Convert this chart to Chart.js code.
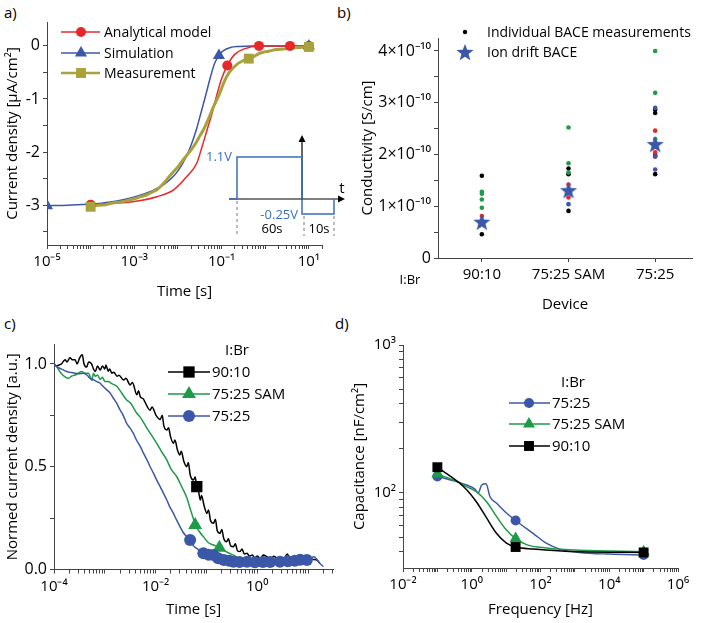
<!DOCTYPE html>
<html><head><meta charset="utf-8">
<script src="https://cdn.jsdelivr.net/npm/chart.js@4.4.1/dist/chart.umd.min.js"></script>
<style>
html,body{margin:0;padding:0;background:#fff;}
body{width:702px;height:623px;position:relative;overflow:hidden;font-family:'Open Sans',sans-serif;color:#000;}
.p{position:absolute;}
.lbl{position:absolute;font-size:15px;line-height:18px;}
</style></head><body>
<div class="lbl" style="left:4px;top:3px">a)</div>
<div class="lbl" style="left:337px;top:3px">b)</div>
<div class="lbl" style="left:4px;top:314px">c)</div>
<div class="lbl" style="left:335px;top:314px">d)</div>
<div class="p" style="left:0;top:0;width:352px;height:305px"><canvas id="ca"></canvas></div>
<div class="p" style="left:355px;top:0;width:347px;height:318px"><canvas id="cb"></canvas></div>
<div class="p" style="left:0;top:310px;width:352px;height:313px"><canvas id="cc"></canvas></div>
<div class="p" style="left:347px;top:310px;width:355px;height:313px"><canvas id="cd"></canvas></div>
<script>
// ---------------- DATA ----------------
// Panel a: current density [uA/cm2] vs time [s]
const aAnalytical = [[1e-4,-2.99],[1e-3,-2.93],[3.3e-3,-2.84],[8e-3,-2.71],[0.016,-2.46],[0.027,-2.21],[0.036,-1.89],[0.047,-1.57],[0.061,-1.26],[0.077,-0.94],[0.1,-0.62],[0.135,-0.37],[0.2,-0.16],[0.32,-0.06],[0.72,0],[3.7,0],[10,0]];
const aAnalyticalMarkers = [[1e-4,-2.99],[0.135,-0.37],[0.72,0],[3.7,0],[10,0]];
const aSimulation = [[1e-5,-3.01],[3e-5,-3.0],[1e-4,-2.98],[2.8e-4,-2.94],[9.6e-4,-2.85],[2.7e-3,-2.72],[5e-3,-2.6],[7.4e-3,-2.48],[0.0105,-2.33],[0.0148,-2.12],[0.02,-1.87],[0.0266,-1.57],[0.034,-1.25],[0.043,-0.94],[0.055,-0.6],[0.069,-0.33],[0.087,-0.18],[0.11,-0.09],[0.16,-0.03],[0.25,-0.01],[0.5,0],[10,0]];
const aSimulationMarkers = [[1e-5,-3.01],[0.087,-0.18],[10,0]];
const aMeasurement = [[1e-4,-3.03],[1.5e-4,-3.0],[2.2e-4,-2.99],[3.2e-4,-2.96],[4.8e-4,-2.94],[7e-4,-2.91],[1e-3,-2.88],[1.4e-3,-2.84],[2e-3,-2.8],[2.6e-3,-2.75],[3.3e-3,-2.71],[4.2e-3,-2.63],[5.2e-3,-2.55],[6.2e-3,-2.47],[7.7e-3,-2.38],[9.5e-3,-2.3],[0.0115,-2.21],[0.014,-2.12],[0.017,-2.03],[0.02,-1.96],[0.023,-1.89],[0.027,-1.8],[0.032,-1.69],[0.039,-1.57],[0.045,-1.46],[0.051,-1.36],[0.057,-1.26],[0.065,-1.15],[0.075,-1.04],[0.087,-0.93],[0.1,-0.8],[0.12,-0.64],[0.15,-0.5],[0.18,-0.42],[0.25,-0.32],[0.33,-0.27],[0.42,-0.24],[0.55,-0.2],[0.7,-0.15],[0.9,-0.12],[1.2,-0.1],[1.8,-0.07],[2.7,-0.06],[4,-0.04],[6,-0.03],[10,-0.02]];
const aMeasurementMarkers = [[1e-4,-3.03],[0.42,-0.24],[10,-0.02]];
const aYTicks = [-3.5,-3,-2.5,-2,-1.5,-1,-0.5,0];

// Panel b: conductivity [S/cm] per device
const bDevices = ['90:10','75:25 SAM','75:25'];
const bBlack = [[1,1.59e-10],[1,0.46e-10],[2,1.73e-10],[2,1.62e-10],[2,0.91e-10],[3,2.87e-10],[3,2.8e-10],[3,1.99e-10],[3,1.62e-10]];
const bGreen = [[1,1.28e-10],[1,1.24e-10],[1,1.13e-10],[1,0.97e-10],[2,2.52e-10],[2,1.83e-10],[2,1.65e-10],[3,4.0e-10],[3,3.19e-10],[3,2.3e-10]];
const bRed = [[1,0.81e-10],[2,1.42e-10],[2,1.17e-10],[3,2.46e-10],[3,2.04e-10],[3,1.96e-10]];
const bBlue = [[1,0.72e-10],[2,1.04e-10],[2,1.27e-10],[3,2.9e-10],[3,1.96e-10],[3,1.71e-10]];
const bIonDrift = [0.70e-10, 1.31e-10, 2.2e-10];
const bYTicks = [0,0.5e-10,1e-10,1.5e-10,2e-10,2.5e-10,3e-10,3.5e-10,4e-10];

// Panel c: normed current density vs time [s]
const c9010 = [[1e-4,1.00],[1.12e-4,0.99],[1.25e-4,0.995],[1.4e-4,1.0],[1.5e-4,1.01],[1.65e-4,1.02],[1.8e-4,1.01],[2.06e-4,1.03],[2.3e-4,1.02],[2.6e-4,1.02],[2.85e-4,1.0],[3.2e-4,1.03],[3.6e-4,1.045],[3.9e-4,1.0],[4.4e-4,0.985],[4.8e-4,1.01],[5.5e-4,1.0],[6e-4,0.975],[6.5e-4,0.963],[7.2e-4,0.99],[8.1e-4,0.97],[9e-4,0.99],[1e-3,0.975],[1.05e-3,0.995],[1.17e-3,0.965],[1.25e-3,0.975],[1.38e-3,0.955],[1.5e-3,0.96],[1.74e-3,0.94],[1.9e-3,0.945],[2.34e-3,0.922],[2.6e-3,0.93],[3.16e-3,0.898],[3.5e-3,0.91],[4.27e-3,0.85],[4.6e-3,0.87],[5.0e-3,0.84],[5.75e-3,0.83],[6.3e-3,0.81],[7.76e-3,0.775],[8.5e-3,0.79],[0.0102,0.75],[0.0123,0.73],[0.0135,0.75],[0.0145,0.70],[0.0166,0.679],[0.018,0.69],[0.0195,0.65],[0.0224,0.614],[0.024,0.63],[0.027,0.58],[0.030,0.557],[0.032,0.575],[0.036,0.525],[0.041,0.50],[0.044,0.52],[0.048,0.46],[0.0556,0.436],[0.06,0.45],[0.0646,0.403],[0.07,0.38],[0.076,0.338],[0.08,0.36],[0.09,0.31],[0.102,0.273],[0.11,0.29],[0.12,0.24],[0.138,0.225],[0.15,0.245],[0.163,0.19],[0.186,0.176],[0.2,0.195],[0.22,0.15],[0.25,0.135],[0.27,0.15],[0.3,0.115],[0.34,0.111],[0.37,0.125],[0.41,0.09],[0.46,0.087],[0.5,0.10],[0.56,0.075],[0.63,0.079],[0.7,0.065],[0.8,0.07],[0.9,0.055],[1.01,0.066],[1.15,0.05],[1.3,0.07],[1.55,0.062],[1.8,0.05],[2.1,0.065],[2.5,0.055],[2.82,0.059],[3.3,0.05],[3.9,0.075],[4.5,0.05],[5.2,0.062],[6.2,0.055],[7,0.07],[8,0.05],[9.5,0.059],[12,0.05],[15,0.046],[17,0.03]];
const c9010Markers = [[0.0646,0.403]];
const c7525SAM = [[1e-4,1.00],[1.13e-4,0.987],[1.3e-4,0.963],[1.5e-4,0.945],[1.9e-4,0.93],[2.2e-4,0.94],[2.6e-4,0.946],[3.0e-4,0.955],[3.5e-4,0.963],[4.0e-4,0.955],[4.8e-4,0.955],[5.2e-4,0.935],[5.6e-4,0.92],[5.95e-4,0.955],[6.5e-4,0.94],[7.2e-4,0.946],[8.1e-4,0.925],[9e-4,0.935],[1.0e-3,0.915],[1.17e-3,0.914],[1.35e-3,0.905],[1.74e-3,0.89],[2.0e-3,0.87],[2.69e-3,0.825],[3.2e-3,0.81],[4.27e-3,0.76],[5e-3,0.74],[6.76e-3,0.687],[8e-3,0.66],[0.0105,0.614],[0.013,0.575],[0.0166,0.533],[0.02,0.49],[0.0263,0.45],[0.033,0.40],[0.041,0.35],[0.048,0.295],[0.0556,0.245],[0.06,0.217],[0.075,0.18],[0.087,0.16],[0.11,0.13],[0.138,0.119],[0.18,0.106],[0.25,0.085],[0.34,0.07],[0.45,0.055],[0.63,0.046],[0.9,0.04],[1.3,0.035]];
const c7525SAMMarkers = [[0.06,0.217],[0.18,0.106]];
const c7525 = [[1e-4,1.00],[1.13e-4,0.987],[1.4e-4,0.975],[1.78e-4,0.963],[2.2e-4,0.958],[2.6e-4,0.955],[3.1e-4,0.952],[3.8e-4,0.955],[4.5e-4,0.945],[5.1e-4,0.93],[5.8e-4,0.925],[6.8e-4,0.915],[8.1e-4,0.906],[9.3e-4,0.89],[1.1e-3,0.873],[1.26e-3,0.86],[1.48e-3,0.833],[1.7e-3,0.81],[2.0e-3,0.776],[2.3e-3,0.75],[2.69e-3,0.711],[3.1e-3,0.69],[3.63e-3,0.663],[4.2e-3,0.63],[5.0e-3,0.598],[5.8e-3,0.565],[6.76e-3,0.533],[7.8e-3,0.50],[9.1e-3,0.468],[0.0105,0.435],[0.0123,0.403],[0.0143,0.37],[0.0166,0.338],[0.019,0.305],[0.0224,0.273],[0.026,0.24],[0.030,0.21],[0.035,0.18],[0.041,0.16],[0.0478,0.144],[0.0556,0.115],[0.0646,0.103],[0.075,0.09],[0.087,0.079],[0.11,0.072],[0.138,0.07],[0.17,0.055],[0.22,0.046],[0.28,0.042],[0.34,0.038],[0.45,0.036],[0.63,0.038],[0.9,0.035],[1.3,0.036],[1.8,0.037],[2.8,0.038],[4,0.04],[5.5,0.042],[7,0.048],[9.5,0.046],[13,0.062],[17,0.03],[20,0.014]];
const c7525Markers = [[0.0478,0.144],[0.087,0.079],[0.11,0.072],[0.138,0.07],[0.17,0.055],[0.22,0.046],[0.28,0.042],[0.34,0.038],[0.45,0.036],[0.63,0.038],[0.9,0.035],[1.3,0.036],[1.8,0.037],[2.8,0.038],[4,0.04],[5.5,0.042],[7,0.048],[9.5,0.046]];
const cYTicks = [0,0.25,0.5,0.75,1.0];

// Panel d: capacitance [nF/cm2] vs frequency [Hz]
const d7525 = [[0.1,129],[0.41,118],[0.71,113],[1.24,106],[1.55,100],[1.95,113],[2.6,115],[3.4,94],[5.3,85],[10.2,73],[18.9,65],[62,53],[151,45.5],[365,41.6],[1400,39.5],[1e4,38.5],[1e5,38]];
const d7525Markers = [[0.1,129],[18.9,65],[1e5,38]];
const d7525SAM = [[0.1,134],[0.41,118],[0.71,110],[1.36,102],[2.7,87],[5.3,69],[10.2,56],[18.9,49],[39.5,44.6],[151,42.3],[1400,40.8],[1e5,40]];
const d7525SAMMarkers = [[0.1,134],[18.9,49],[1e5,40]];
const d9010 = [[0.1,149],[0.41,118],[0.71,105],[1.36,87],[2.7,67.6],[5.3,53],[10.2,45.7],[18.9,43],[62,41.7],[1400,39.9],[1e5,39.5]];
const d9010Markers = [[0.1,149],[18.9,43],[1e5,39.5]];

// ---------------- HELPERS ----------------
const FONT = "'Open Sans', sans-serif";
Chart.defaults.font.family = FONT;
Chart.defaults.color = '#000';
Chart.defaults.animation = false;

const RED = '#E8272A', BLUE = '#3B57A8', OLIVE = '#A9A23C', GREEN = '#1E9A48', BLACK = '#000';
const SUP = {'-':'⁻','0':'⁰','1':'¹','2':'²','3':'³','4':'⁴','5':'⁵','6':'⁶','7':'⁷','8':'⁸','9':'⁹'};
const sup = s => String(s).split('').map(c => SUP[c] || c).join('');
const pts = arr => arr.map(p => ({x: p[0], y: p[1]}));

const gridOpts = {drawOnChartArea:false, drawTicks:true, tickLength:4, color:'#444', lineWidth:1};
const borderOpts = {display:true, color:'#444', width:1};

function logAxis(min, max, labelExps, title, fitSize, isX) {
  return {
    type:'logarithmic', min, max,
    afterBuildTicks: sc => {
      const t = [];
      for (let e = Math.floor(Math.log10(min)); e <= Math.ceil(Math.log10(max)); e++)
        for (let m = 1; m < 10; m++) {
          const v = m * Math.pow(10, e);
          if (v >= min * 0.9999 && v <= max * 1.0001) t.push({value: v});
        }
      sc.ticks = t;
    },
    afterFit: sc => { if (isX) sc.height = fitSize; else sc.width = fitSize; },
    ticks: {autoSkip:false, maxRotation:0, padding:isX?4:3, font:{size:15},
      callback: v => { const e = Math.round(Math.log10(v)); return (Math.abs(v/Math.pow(10,e)-1) < 1e-6 && labelExps.includes(e)) ? '10' + sup(e) : ''; }},
    grid: gridOpts, border: borderOpts,
    title: {display:true, text:title, font:{size:15}, padding:{top:4,bottom:4}}
  };
}
function linAxis(min, max, tickVals, fmt, title, fitSize, isX, tickSize) {
  return {
    type:'linear', min, max,
    afterBuildTicks: sc => { sc.ticks = tickVals.map(v => ({value:v})); },
    afterFit: sc => { if (isX) sc.height = fitSize; else sc.width = fitSize; },
    ticks: {autoSkip:false, maxRotation:0, padding:isX?4:3, font:{size:tickSize || 15}, callback: fmt},
    grid: gridOpts, border: borderOpts,
    title: {display:true, text:title, font:{size:15}, padding:{top:4,bottom:4}}
  };
}

function starPath(g, cx, cy, R, r) {
  g.beginPath();
  for (let i = 0; i < 10; i++) {
    const a = -Math.PI/2 + i * Math.PI/5;
    const rr = i % 2 === 0 ? R : r;
    const x = cx + rr * Math.cos(a), y = cy + rr * Math.sin(a);
    if (i === 0) g.moveTo(x, y); else g.lineTo(x, y);
  }
  g.closePath();
}
function starCanvas(R, color) {
  const s = Math.ceil(R * 2 + 2);
  const c = document.createElement('canvas'); c.width = s; c.height = s;
  const g = c.getContext('2d'); g.fillStyle = color;
  starPath(g, s/2, s/2 + R*0.1, R, R*0.42); g.fill();
  return c;
}
function drawMarker(g, style, x, y, r, color) {
  g.save(); g.fillStyle = color; g.strokeStyle = color;
  if (style === 'circle') { g.beginPath(); g.arc(x, y, r, 0, Math.PI*2); g.fill(); }
  else if (style === 'rect') { const h = r * Math.SQRT1_2; g.fillRect(x-h, y-h, 2*h, 2*h); }
  else if (style === 'triangle') { g.beginPath(); g.moveTo(x, y - r); g.lineTo(x + r*0.866, y + r*0.5); g.lineTo(x - r*0.866, y + r*0.5); g.closePath(); g.fill(); }
  else if (style === 'star') { starPath(g, x, y + r*0.1, r, r*0.42); g.fill(); }
  g.restore();
}
function legendPlugin(id, cfg) {
  return {id, afterDraw(chart) {
    const g = chart.ctx; g.save();
    g.font = cfg.size + 'px ' + FONT; g.textBaseline = 'middle'; g.fillStyle = '#000';
    if (cfg.header) { g.textAlign = 'center'; g.fillText(cfg.header.text, cfg.header.x, cfg.header.y); }
    g.textAlign = 'left';
    cfg.items.forEach(it => {
      if (it.line) { g.strokeStyle = it.color; g.lineWidth = it.lw || 1.5; g.beginPath(); g.moveTo(cfg.x1, it.y); g.lineTo(cfg.x2, it.y); g.stroke(); }
      drawMarker(g, it.marker, cfg.xm, it.y, it.r, it.color);
      g.fillStyle = '#000'; g.fillText(it.text, cfg.xt, it.y + 1);
    });
    if (cfg.extra) cfg.extra(g, chart);
    g.restore();
  }};
}
function lineDS(data, color, lw) {
  return {data: pts(data), borderColor: color, backgroundColor: color, borderWidth: lw, pointRadius: 0, cubicInterpolationMode: 'monotone', fill: false};
}
function markDS(data, color, style, r) {
  return {data: pts(data), showLine: false, pointStyle: style, pointRadius: r, pointHoverRadius: r, backgroundColor: color, borderColor: color, borderWidth: 0};
}

// ---------------- PANEL A ----------------
function drawInset(g) {
  g.save();
  const blue = '#3A6FC0';
  g.strokeStyle = '#000'; g.fillStyle = '#000'; g.lineWidth = 1.2;
  g.beginPath(); g.moveTo(229, 199); g.lineTo(341, 199); g.stroke();
  g.beginPath(); g.moveTo(345, 199); g.lineTo(338, 195.5); g.lineTo(338, 202.5); g.closePath(); g.fill();
  g.beginPath(); g.moveTo(302, 200); g.lineTo(302, 141); g.stroke();
  g.beginPath(); g.moveTo(302, 135); g.lineTo(298.5, 142); g.lineTo(305.5, 142); g.closePath(); g.fill();
  g.strokeStyle = blue; g.lineWidth = 1.5;
  g.beginPath(); g.moveTo(229, 199); g.lineTo(237, 199); g.lineTo(237, 157); g.lineTo(302, 157); g.lineTo(302, 214); g.lineTo(334, 214); g.lineTo(334, 199); g.stroke();
  g.strokeStyle = '#555'; g.lineWidth = 0.8; g.setLineDash([3, 3]);
  [[237, 201], [304, 216], [334, 216]].forEach(([x, y0]) => { g.beginPath(); g.moveTo(x, y0); g.lineTo(x, 236); g.stroke(); });
  g.setLineDash([]);
  g.font = '13px ' + FONT; g.textBaseline = 'middle';
  g.fillStyle = blue; g.textAlign = 'right';
  g.fillText('1.1V', 232, 157);
  g.fillText('-0.25V', 298, 215);
  g.fillStyle = '#000'; g.textAlign = 'center';
  g.fillText('60s', 272, 229);
  g.fillText('10s', 319, 229);
  g.font = '15px ' + FONT;
  g.fillText('t', 342, 189);
  g.restore();
}

new Chart(document.getElementById('ca'), {
  type: 'line',
  data: {datasets: [
    markDS(aMeasurementMarkers, OLIVE, 'rect', 7),
    markDS(aAnalyticalMarkers, RED, 'circle', 5),
    markDS(aSimulationMarkers, BLUE, 'triangle', 7),
    lineDS(aMeasurement, OLIVE, 3),
    lineDS(aAnalytical, RED, 1.5),
    lineDS(aSimulation, BLUE, 1.5)
  ]},
  options: {
    responsive: true, maintainAspectRatio: false,
    layout: {padding: {top: 22, right: 30, left: 0, bottom: 0}},
    plugins: {legend: {display: false}, tooltip: {enabled: false}},
    scales: {
      x: logAxis(1e-5, 20, [-5, -3, -1, 1], 'Time [s]', 60, true),
      y: linAxis(-3.75, 0.45, aYTicks, v => Number.isInteger(v) ? (v === 0 ? '0' : String(v)) : '', 'Current density [µA/cm²]', 47, false, 16)
    }
  },
  plugins: [legendPlugin('lega', {size: 14, x1: 61, x2: 100, xm: 81, xt: 104,
    items: [
      {text: 'Analytical model', color: RED, marker: 'circle', r: 5, y: 32, line: true},
      {text: 'Simulation', color: BLUE, marker: 'triangle', r: 7, y: 53, line: true},
      {text: 'Measurement', color: OLIVE, marker: 'rect', r: 7, y: 73, line: true, lw: 2.5}
    ],
    extra: g => drawInset(g)
  })]
});

// ---------------- PANEL B ----------------
const starImg = starCanvas(9, BLUE);
new Chart(document.getElementById('cb'), {
  type: 'scatter',
  data: {datasets: [
    {data: bIonDrift.map((v, i) => ({x: i + 1, y: v})), pointStyle: starImg, pointRadius: 9, backgroundColor: BLUE},
    markDS(bBlue, BLUE, 'circle', 2.3),
    markDS(bRed, RED, 'circle', 2.3),
    markDS(bGreen, GREEN, 'circle', 2.3),
    markDS(bBlack, BLACK, 'circle', 2.3)
  ]},
  options: {
    responsive: true, maintainAspectRatio: false,
    layout: {padding: {top: 38, right: 9, left: 0, bottom: 0}},
    plugins: {legend: {display: false}, tooltip: {enabled: false}},
    scales: {
      x: linAxis(0.494, 3.425, [1, 2, 3], v => bDevices[v - 1] || '', 'Device', 60, true),
      y: linAxis(0, 4.25e-10, bYTicks, v => { const n = Math.round(v * 1e10 * 2) / 2; return n === 0 ? '0' : (Number.isInteger(n) ? n + '×10' + sup(-10) : ''); }, 'Conductivity [S/cm]', 83, false, 16)
    }
  },
  plugins: [legendPlugin('legb', {size: 14, x1: 0, x2: 0, xm: 110, xt: 132,
    items: [
      {text: 'Individual BACE measurements', color: BLACK, marker: 'circle', r: 2.2, y: 32},
      {text: 'Ion drift BACE', color: BLUE, marker: 'star', r: 9, y: 52}
    ],
    extra: g => { g.font = '13px ' + FONT; g.textAlign = 'center'; g.fillStyle = '#000'; g.fillText('I:Br', 55, 280); }
  })]
});

// ---------------- PANEL C ----------------
new Chart(document.getElementById('cc'), {
  type: 'line',
  data: {datasets: [
    markDS(c7525Markers, BLUE, 'circle', 6),
    markDS(c7525SAMMarkers, GREEN, 'triangle', 8),
    markDS(c9010Markers, BLACK, 'rect', 8),
    lineDS(c7525, BLUE, 1.5),
    lineDS(c7525SAM, GREEN, 1.5),
    lineDS(c9010, BLACK, 1.5)
  ]},
  options: {
    responsive: true, maintainAspectRatio: false,
    layout: {padding: {top: 34, right: 19, left: 0, bottom: 0}},
    plugins: {legend: {display: false}, tooltip: {enabled: false}},
    scales: {
      x: logAxis(1e-4, 31, [-4, -2, 0], 'Time [s]', 53.5, true),
      y: linAxis(0, 1.097, cYTicks, v => (v === 0 || v === 0.5 || v === 1) ? v.toFixed(1) : '', 'Normed current density [a.u.]', 54, false, 16)
    }
  },
  plugins: [legendPlugin('legc', {size: 15, x1: 168, x2: 210, xm: 189, xt: 212,
    header: {text: 'I:Br', x: 237, y: 41},
    items: [
      {text: '90:10', color: BLACK, marker: 'rect', r: 8, y: 62, line: true},
      {text: '75:25 SAM', color: GREEN, marker: 'triangle', r: 8, y: 84, line: true},
      {text: '75:25', color: BLUE, marker: 'circle', r: 6, y: 106, line: true}
    ]
  })]
});

// ---------------- PANEL D ----------------
new Chart(document.getElementById('cd'), {
  type: 'line',
  data: {datasets: [
    markDS(d9010Markers, BLACK, 'rect', 7),
    markDS(d7525SAMMarkers, GREEN, 'triangle', 7),
    markDS(d7525Markers, BLUE, 'circle', 5),
    lineDS(d9010, BLACK, 1.5),
    lineDS(d7525SAM, GREEN, 1.5),
    lineDS(d7525, BLUE, 1.5)
  ]},
  options: {
    responsive: true, maintainAspectRatio: false,
    layout: {padding: {top: 35, right: 24, left: 0, bottom: 0}},
    plugins: {legend: {display: false}, tooltip: {enabled: false}},
    scales: {
      x: logAxis(0.01, 1e6, [-2, 0, 2, 4, 6], 'Frequency [Hz]', 55, true),
      y: logAxis(31, 1000, [2, 3], 'Capacitance [nF/cm²]', 56, false)
    }
  },
  plugins: [legendPlugin('legd', {size: 15, x1: 162, x2: 203, xm: 182, xt: 205,
    header: {text: 'I:Br', x: 226, y: 73},
    items: [
      {text: '75:25', color: BLUE, marker: 'circle', r: 5, y: 93, line: true},
      {text: '75:25 SAM', color: GREEN, marker: 'triangle', r: 7, y: 114, line: true},
      {text: '90:10', color: BLACK, marker: 'rect', r: 7, y: 136, line: true}
    ]
  })]
});
</script>
</body></html>
